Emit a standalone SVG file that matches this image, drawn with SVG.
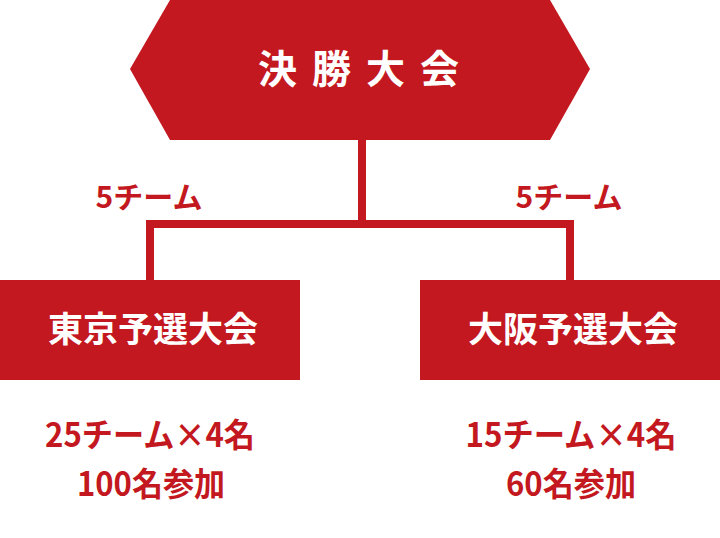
<svg xmlns="http://www.w3.org/2000/svg" width="720" height="538" viewBox="0 0 720 538">
<style>
.shape{fill:#c31820}
.line{stroke:#c31820;stroke-width:8;fill:none}
text{font-family:"Noto Sans CJK JP","Noto Sans",sans-serif;font-weight:bold;text-anchor:middle}
.title{fill:#fff;font-size:39px;letter-spacing:15px}
.sub{fill:#fff;font-size:35px}
.lbl{fill:#c31820;font-size:30px}
.info{fill:#c31820;font-size:33px}
</style>
<rect width="720" height="538" fill="#fff"/>
<g id="connectors">
<path class="line" d="M362 138 V224 M150 282 V224 H570 V282"/>
</g>
<g id="final">
<polygon class="shape" points="170,0 550,0 590,69 550,140 170,140 130,69"/>
<text class="title" x="366" y="83">決勝大会</text>
</g>
<g id="label-left"><text class="lbl" x="149" y="208">5チーム</text></g>
<g id="label-right"><text class="lbl" x="569" y="208">5チーム</text></g>
<g id="tokyo">
<rect class="shape" x="0" y="280" width="300" height="100"/>
<text class="sub" x="153" y="342">東京予選大会</text>
</g>
<g id="osaka">
<rect class="shape" x="420" y="280" width="300" height="100"/>
<text class="sub" x="573" y="342">大阪予選大会</text>
</g>
<g id="tokyo-info">
<text class="info" x="150" y="447" textLength="210" lengthAdjust="spacingAndGlyphs">25チーム×4名</text>
<text class="info" x="151" y="496" textLength="148" lengthAdjust="spacingAndGlyphs">100名参加</text>
</g>
<g id="osaka-info">
<text class="info" x="571" y="447" textLength="211" lengthAdjust="spacingAndGlyphs">15チーム×4名</text>
<text class="info" x="571" y="496" textLength="130" lengthAdjust="spacingAndGlyphs">60名参加</text>
</g>
</svg>
